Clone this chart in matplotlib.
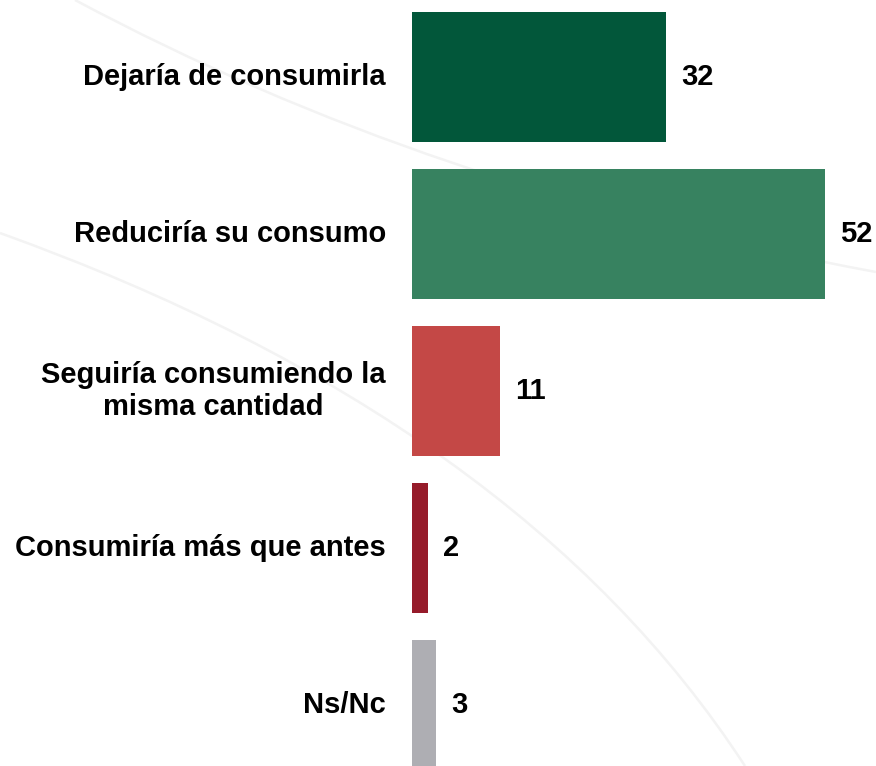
import matplotlib
matplotlib.use("Agg")
import matplotlib.pyplot as plt
from matplotlib.path import Path
from matplotlib.patches import PathPatch

# Survey answers and percentages
categories = [
    "Dejaría de consumirla",
    "Reduciría su consumo",
    "Seguiría consumiendo la\nmisma cantidad",
    "Consumiría más que antes",
    "Ns/Nc",
]
values = [32, 52, 11, 2, 3]
bar_colors = ["#02573A", "#378260", "#C44846", "#961B2A", "#AEAEB3"]

plt.rcParams['font.family'] = ['Liberation Sans', 'DejaVu Sans']

fig = plt.figure(figsize=(8.76, 7.66), dpi=100)
fig.patch.set_facecolor('white')

ax = fig.add_axes([0, 0, 1, 1])
ax.patch.set_alpha(0)

# faint background arcs (decoration, pixel coords from top-left)
W, H = 876, 766
def faint_curve(p0, p1, p2):
    verts = [(x / W, 1 - y / H) for x, y in (p0, p1, p2)]
    path = Path(verts, [Path.MOVETO, Path.CURVE3, Path.CURVE3])
    ax.add_patch(PathPatch(path, transform=fig.transFigure, fill=False,
                           edgecolor='#f3f3f3', linewidth=1.8, zorder=0))

faint_curve((75, 0), (430, 190), (876, 272))
faint_curve((0, 233), (520, 420), (745, 766))

y = list(range(len(categories)))
ax.barh(y, values, height=0.83, color=bar_colors, zorder=2)

for yi, v, label in zip(y, values, categories):
    ax.text(v + 1.9, yi, str(v), ha='left', va='center',
            fontsize=21, fontweight='bold', color='black', zorder=3)
    ax.text(-3.3, yi, label, ha='right', va='center', multialignment='center',
            fontsize=21, fontweight='bold', color='black', zorder=3)

ax.set_xlim(-51.9, 58.4)
ax.set_ylim(4.389, -0.490)
ax.axis('off')

fig.savefig('out.png', dpi=100, facecolor='white')
